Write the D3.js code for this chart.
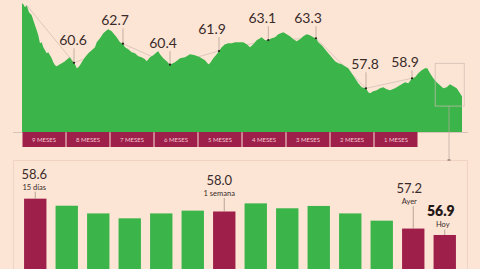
<!DOCTYPE html>
<html><head><meta charset="utf-8">
<script src="https://cdn.jsdelivr.net/npm/d3@7"></script>
<style>
html,body{margin:0;padding:0;background:#fce5d5;}
svg{display:block;}
text{font-family:Lato,"Open Sans",sans-serif;}
</style></head>
<body>
<script>
// ---- DATA ----
// Top area: position in months (0 = start of "9 MESES") and value
const trendT = [0,0.030,0.068,0.107,0.159,0.220,0.257,0.295,0.334,0.370,0.409,0.448,0.484,0.523,0.561,0.598,0.636,0.675,0.711,0.750,0.789,0.825,0.902,0.977,1.052,1.091,1.130,1.182,1.205,1.243,1.280,1.318,1.357,1.432,1.507,1.584,1.659,1.698,1.773,1.848,1.925,1.961,2.039,2.075,2.152,2.227,2.295,2.341,2.416,2.493,2.568,2.643,2.720,2.795,2.834,2.909,2.984,3.061,3.098,3.136,3.211,3.289,3.364,3.477,3.591,3.705,3.818,3.932,4.045,4.159,4.234,4.273,4.348,4.425,4.477,4.539,4.614,4.689,4.766,4.841,4.916,5.030,5.107,5.182,5.257,5.334,5.448,5.523,5.598,5.675,5.750,5.825,5.939,6.016,6.091,6.166,6.243,6.318,6.393,6.470,6.545,6.620,6.682,6.734,6.811,6.886,6.961,7.039,7.114,7.189,7.266,7.341,7.416,7.493,7.568,7.643,7.720,7.818,7.870,7.909,7.984,8.061,8.136,8.211,8.289,8.364,8.477,8.591,8.705,8.780,8.864,8.932,9.007,9.084,9.159,9.211,9.273,9.348,9.425,9.500,9.575,9.652,9.727,9.802,9.880,9.955,10];
const trendV = [67.14,67.03,66.70,66.92,66.15,65.82,65.27,64.73,64.18,63.63,62.75,62.86,62.31,61.98,61.65,61.76,61.43,61.10,60.66,60.33,60.22,60.33,60.55,60.77,61.10,61.21,60.88,60.6,60.44,60.00,60.11,60.33,60.66,61.21,61.65,61.98,62.31,62.86,63.30,63.85,64.18,64.29,64.07,63.85,63.41,62.86,62.7,62.31,62.09,61.76,61.65,61.32,61.21,60.99,60.77,61.21,61.43,61.76,61.87,61.54,61.10,60.77,60.4,60.66,61.10,61.21,61.54,61.43,61.21,60.88,60.44,60.55,61.10,61.54,61.9,62.31,62.64,62.75,62.75,62.86,62.86,62.86,62.64,62.31,62.64,63.08,63.41,63.08,63.1,63.30,63.41,63.74,63.96,63.74,63.52,63.19,62.97,63.19,63.52,63.74,63.63,63.41,63.3,62.86,62.53,62.09,61.65,61.21,60.77,60.55,60.44,60.22,60.00,59.45,58.90,58.35,57.91,57.8,57.36,57.25,57.47,57.58,57.80,57.91,57.69,57.58,57.80,58.13,58.46,58.35,58.9,59.01,59.45,59.78,60.00,60.00,59.45,58.90,58.46,58.13,57.80,57.91,58.24,58.02,57.80,57.25,56.9];
const annLabels = ["60.6","62.7","60.4","61.9","63.1","63.3","57.8","58.9"];
const annT = [1.182,2.295,3.364,4.477,5.598,6.682,7.818,8.864];
const annV = [60.6,62.7,60.4,61.9,63.1,63.3,57.8,58.9];
const monthLabels = ["9 MESES","8 MESES","7 MESES","6 MESES","5 MESES","4 MESES","3 MESES","2 MESES","1 MESES"];

// Bottom bars
const barCats = ["d15","d14","d13","d12","d11","d10","d9","d8","d7","d6","d5","d4","d3","d2"];
const barVals = [58.6,58.27,57.91,57.68,57.91,58.04,58.0,58.38,58.15,58.26,57.91,57.57,57.2,56.9];
const barHighlight = [0,6,12,13];
const barLabelNums = ["58.6","58.0","57.2","56.9"];
const barLabelSubs = ["15 días","1 semana","Ayer","Hoy"];

// ---- LAYOUT / STYLE ----
const C = {bg:"#fce5d5", green:"#3bb54a", maroon:"#9e1f4a", text:"#3a2b2b", guide:"#cdbab0", frame:"#f1d3c2"};
const annDx = [-1,-8,-7,-7,-6,-8,-1,-7];
const annDy = [-17.5,-18.4,-16.4,-16.7,-16.8,-15,-19,-11];
const barLblDx = [-1,-5,-4,-4];
const barLblDy = [-20,-26.5,-35.5,-18.5];

const W=480,H=269;
const svg = d3.select("body").append("svg").attr("width",W).attr("height",H);
svg.append("rect").attr("width",W).attr("height",H).attr("fill",C.bg);

const x = d3.scaleLinear().domain([0,10]).range([22,462]);
const y = d3.scaleLinear().domain([53,67.5]).range([132,0]);
const series = trendT.map((t,i)=>({t, v:trendV[i]}));

// baseline
svg.append("line").attr("x1",13).attr("x2",468).attr("y1",y(53)+0.5).attr("y2",y(53)+0.5)
  .attr("stroke",C.guide).attr("stroke-width",0.8);

// connecting guide line (behind area)
const guidePts = [series[3]].concat(annT.map((t,i)=>({t, v:annV[i]})));
svg.append("path").datum(guidePts)
  .attr("d", d3.line().x(d=>x(d.t)).y(d=>y(d.v)))
  .attr("fill","none").attr("stroke",C.guide).attr("stroke-width",0.7);

// area
svg.append("path").datum(series)
  .attr("d", d3.area().x(d=>x(d.t)).y0(y(53)).y1(d=>y(d.v)))
  .attr("fill",C.green);

// highlight box at the end
const bx0 = x(9.39), bx1 = x(10.05), by0 = y(60.55), by1 = y(55.85);
svg.append("rect").attr("x",bx0).attr("y",by0).attr("width",bx1-bx0).attr("height",by1-by0)
  .attr("fill","none").attr("stroke",C.guide).attr("stroke-width",0.7);
svg.append("line").attr("x1",x(9.705)).attr("x2",x(9.705)).attr("y1",by1).attr("y2",160)
  .attr("stroke","#b9a69b").attr("stroke-width",0.7);

// annotations
const ann = svg.append("g");
annLabels.forEach((lab,i)=>{
  const mx = x(annT[i]), my = y(annV[i]);
  const ty = my + annDy[i];
  ann.append("line").attr("x1",mx).attr("x2",mx).attr("y1",ty+3).attr("y2",my)
    .attr("stroke","#9c8a80").attr("stroke-width",0.6);
  ann.append("circle").attr("cx",mx).attr("cy",my).attr("r",1.1).attr("fill","#2b1f1f");
  ann.append("text").attr("x",mx+annDx[i]).attr("y",ty).attr("text-anchor","middle")
    .attr("font-size",14).attr("fill",C.text).text(lab);
});

// month bars
const mg = svg.append("g");
monthLabels.forEach((m,k)=>{
  mg.append("rect").attr("x",x(k)+0.5).attr("y",y(53)).attr("width",x(k+1)-x(k)-1).attr("height",15)
    .attr("fill",C.maroon);
  mg.append("text").attr("x",x(k+0.5)).attr("y",y(53)+10).attr("text-anchor","middle")
    .attr("font-size",6).attr("font-family","Roboto").attr("fill","#f2c4d0").text(m);
});

// bottom frame
svg.append("path").attr("d","M13.5,270 V160.5 H467.5 V270").attr("fill","none")
  .attr("stroke",C.frame).attr("stroke-width",1);
svg.append("line").attr("x1",x(9.705)-1.5).attr("x2",x(9.705)+1.5).attr("y1",160).attr("y2",160)
  .attr("stroke","#6d5a52").attr("stroke-width",1);

// bottom bars
const xb = d3.scaleBand().domain(barCats).range([19.5,460.5]).paddingInner(0.29).paddingOuter(0.145);
const yb = d3.scaleLinear().domain([56,59]).range([254.2,190.13]);
svg.append("g").selectAll("rect").data(barVals).join("rect")
  .attr("x",(d,i)=>xb(barCats[i])).attr("width",xb.bandwidth())
  .attr("y",d=>yb(d)).attr("height",d=>275-yb(d))
  .attr("fill",(d,i)=>barHighlight.includes(i)?C.maroon:C.green);

barHighlight.forEach((bi,j)=>{
  const cx = xb(barCats[bi]) + xb.bandwidth()/2;
  const top = yb(barVals[bi]);
  const ty = top + barLblDy[j];
  const isLast = j===3;
  svg.append("line").attr("x1",cx).attr("x2",cx).attr("y1",ty+13).attr("y2",top)
    .attr("stroke","#8a7870").attr("stroke-width",0.6);
  svg.append("text").attr("x",cx+barLblDx[j]).attr("y",ty).attr("text-anchor","middle")
    .attr("font-size",isLast?14:13).attr("font-weight",isLast?800:400)
    .attr("fill",isLast?"#231616":C.text).text(barLabelNums[j]);
  svg.append("text").attr("x",cx+barLblDx[j]+(isLast?2:0)).attr("y",ty+11).attr("text-anchor","middle")
    .attr("font-size",7.5).attr("fill",C.text).text(barLabelSubs[j]);
});
</script>
</body></html>
